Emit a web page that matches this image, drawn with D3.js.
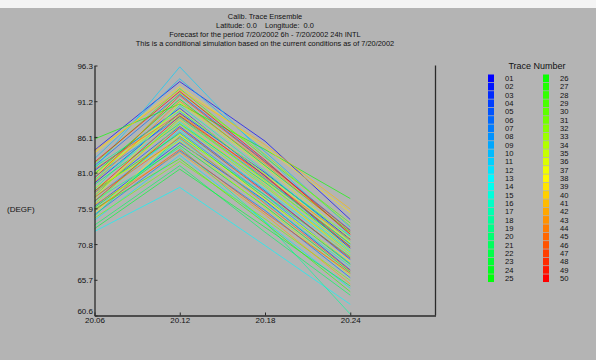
<!DOCTYPE html>
<html>
<head>
<meta charset="utf-8">
<script src="https://cdn.jsdelivr.net/npm/d3@7"></script>
<style>
  html, body { margin: 0; padding: 0; background: #b4b4b4; }
  svg { display: block; }
  text { font-family: "Liberation Sans", Arial, sans-serif; fill: #111; white-space: pre; }
</style>
</head>
<body>
<svg id="chart" width="596" height="360"></svg>
<script>
// Forecast times (day.fraction) at which every trace is sampled
const times = [20.06, 20.12, 20.18, 20.24];

// Temperature (DEGF) of each of the 50 traces, one array per forecast time
const t0606 = [84.2, 79.5, 81.3, 76.2, 78.1, 82.0, 75.0, 80.4, 77.4, 83.0,
               81.5, 74.2, 72.6, 76.8, 80.0, 75.5, 78.6, 77.0, 81.8, 74.8,
               73.5, 79.3, 73.0, 76.0, 80.8, 85.8, 78.4, 75.8, 82.3, 77.7,
               74.5, 79.8, 76.5, 81.0, 78.8, 77.2, 80.6, 75.2, 83.8, 78.0,
               84.1, 76.4, 79.6, 81.5, 77.5, 75.6, 80.2, 76.9, 78.3, 82.5];
const t0612 = [94.0, 89.5, 90.2, 85.3, 87.6, 92.2, 84.1, 89.0, 86.8, 94.4,
               96.1, 83.5, 78.9, 87.1, 88.3, 85.8, 90.6, 84.6, 89.8, 86.2,
               82.0, 88.0, 81.5, 84.9, 91.5, 90.8, 86.6, 83.0, 93.0, 88.8,
               82.6, 92.4, 87.9, 89.2, 85.5, 91.0, 90.0, 86.5, 93.3, 88.5,
               92.8, 83.9, 91.2, 89.4, 86.0, 84.3, 92.0, 87.4, 89.1, 92.6];
const t0618 = [85.5, 81.0, 80.5, 77.0, 78.4, 82.6, 75.6, 80.1, 77.8, 84.0,
               83.4, 74.0, 70.6, 78.6, 79.2, 76.8, 81.2, 74.0, 80.8, 77.8,
               72.5, 79.6, 73.2, 76.2, 82.0, 84.3, 77.4, 73.8, 83.2, 80.0,
               74.4, 83.6, 79.0, 79.8, 76.0, 81.8, 80.8, 77.2, 84.6, 79.3,
               85.0, 75.0, 82.3, 80.3, 76.6, 75.3, 82.5, 78.2, 80.6, 82.8];
const t0624 = [74.3, 71.5, 70.2, 67.1, 68.6, 72.8, 66.0, 70.8, 68.0, 73.2,
               72.0, 64.5, 62.2, 69.3, 69.8, 67.6, 71.2, 60.8, 71.9, 69.0,
               63.5, 70.5, 64.8, 66.8, 72.5, 77.3, 67.9, 64.0, 73.8, 70.9,
               65.6, 73.4, 69.6, 70.0, 66.3, 71.6, 71.0, 68.3, 75.3, 69.2,
               75.8, 65.1, 72.3, 71.4, 67.0, 66.6, 72.7, 68.8, 70.4, 72.2];

// Axis tick values
const yTicks = [96.3, 91.2, 86.1, 81.0, 75.9, 70.8, 65.7, 60.6];
const xTicks = [20.06, 20.12, 20.18, 20.24];

// Title block
const titleLines = [
  "Calib. Trace Ensemble",
  "Latitude: 0.0    Longitude:  0.0",
  "Forecast for the period 7/20/2002 6h - 7/20/2002 24h INTL",
  "This is a conditional simulation based on the current conditions as of 7/20/2002"
];

const traceIds = d3.range(1, 51).map(i => String(i).padStart(2, "0"));

const svg = d3.select("#chart");

// thin white strip along the top edge
svg.append("rect").attr("x", 0).attr("y", 0).attr("width", 596).attr("height", 8)
  .attr("fill", "#f4f4f4");

const x = d3.scaleLinear().domain([20.06, 20.30]).range([94.5, 435.5]);
const y = d3.scaleLinear().domain([60.6, 96.3]).range([315.5, 65.5]);

// trace colour: rainbow from blue (01) to red (50)
const color = i => d3.hsl(240 * (50 - i) / 49, 1, 0.5).toString();

// title
svg.append("g").selectAll("text").data(titleLines).join("text")
  .attr("x", 265).attr("y", (d, i) => 16 + i * 9)
  .attr("text-anchor", "middle").attr("dominant-baseline", "central")
  .attr("xml:space", "preserve")
  .style("font-size", "7.4px")
  .text(d => d);

// traces
const series = traceIds.map((id, i) => ({
  id, idx: i + 1,
  values: [t0606[i], t0612[i], t0618[i], t0624[i]]
}));
const line = d3.line().x((d, j) => x(times[j])).y(d => y(d));
svg.append("g").selectAll("path").data(series).join("path")
  .attr("d", d => line(d.values))
  .attr("fill", "none")
  .attr("stroke", d => color(d.idx))
  .attr("stroke-opacity", 0.68)
  .attr("stroke-width", 1);

// axes
const yAxis = d3.axisLeft(y).tickValues(yTicks).tickFormat(d3.format(".1f"))
  .tickSizeInner(-3).tickSizeOuter(0).tickPadding(1.5);
const gy = svg.append("g").attr("transform", "translate(94.5,0)").call(yAxis);
const xAxis = d3.axisBottom(x).tickValues(xTicks).tickFormat(d3.format(".2f"))
  .tickSizeInner(-3).tickSizeOuter(0).tickPadding(2.3);
const gx = svg.append("g").attr("transform", "translate(0,315.5)").call(xAxis);
[gx, gy].forEach(g => {
  g.select(".domain").attr("stroke", "#2a2a2a").attr("stroke-width", 1.3);
  g.selectAll(".tick line").attr("stroke", "#2a2a2a");
  g.selectAll(".tick text").style("font-size", "8px").attr("fill", "#111")
    .style("font-family", "'Liberation Sans', Arial, sans-serif");
});
gy.selectAll(".tick text").attr("dy", d => d === 60.6 ? "-0.2em" : "0.4em");
svg.append("line")
  .attr("x1", x(20.30)).attr("x2", x(20.30))
  .attr("y1", y(96.3)).attr("y2", y(60.6))
  .attr("stroke", "#2a2a2a").attr("stroke-width", 1.3);

// unit label
svg.append("text").attr("x", 7).attr("y", 209)
  .attr("dominant-baseline", "central").style("font-size", "8px").text("(DEGF)");

// legend
const legend = svg.append("g");
legend.append("text").attr("x", 537).attr("y", 66)
  .attr("text-anchor", "middle").attr("dominant-baseline", "central")
  .style("font-size", "9px").text("Trace Number");
const rowY = i => 78.3 + (i % 25) * 8.33;
const colX = i => (i < 25 ? 488 : 543);
const items = legend.selectAll("g.item").data(series).join("g").attr("class", "item");
items.append("rect")
  .attr("x", (d, i) => colX(i)).attr("y", (d, i) => rowY(i) - 3.8)
  .attr("width", 6).attr("height", 7.6)
  .attr("fill", d => color(d.idx));
items.append("text")
  .attr("x", (d, i) => colX(i) + 17).attr("y", (d, i) => rowY(i) + 0.3)
  .attr("dominant-baseline", "central").style("font-size", "7.6px")
  .text(d => d.id);
</script>
</body>
</html>
